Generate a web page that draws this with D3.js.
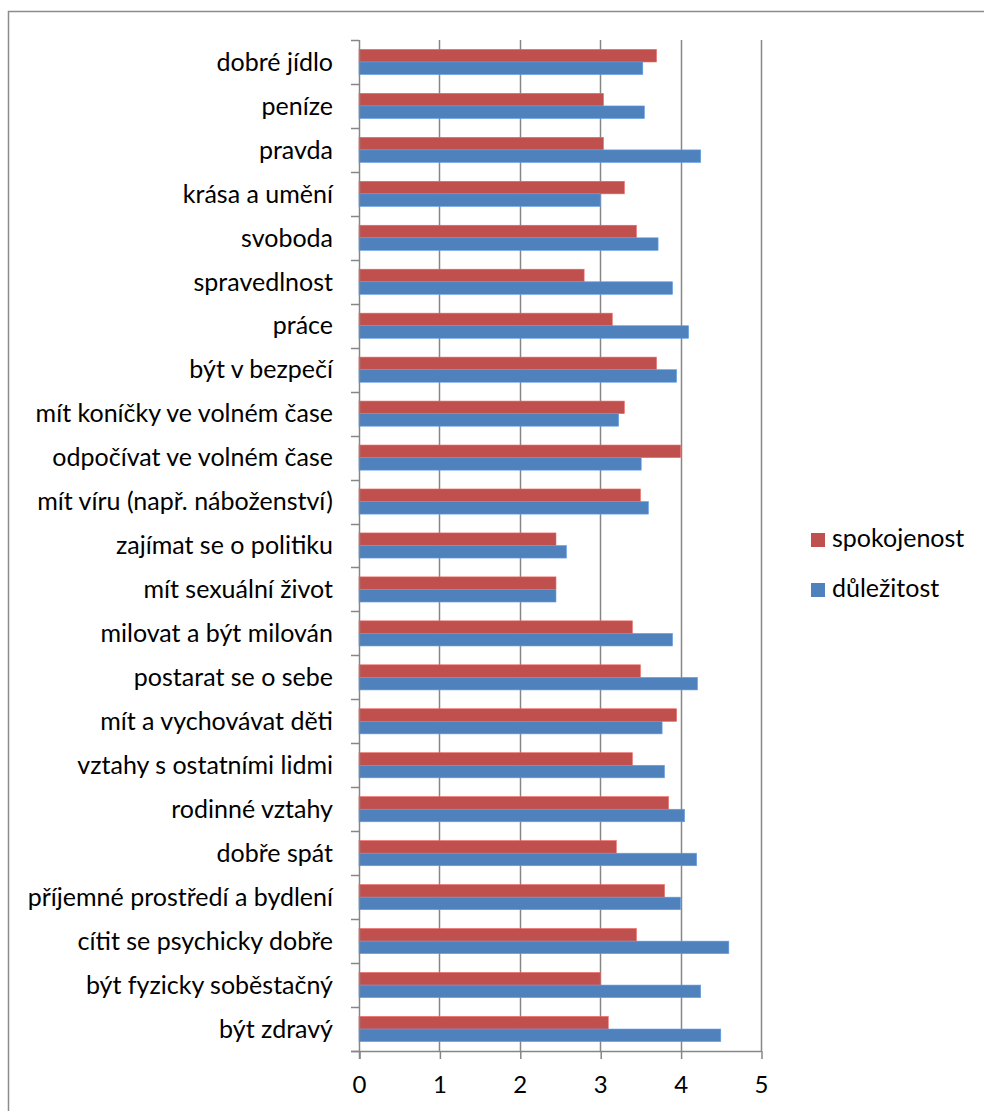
<!DOCTYPE html>
<html>
<head>
<meta charset="utf-8">
<script src="https://cdn.jsdelivr.net/npm/d3@7"></script>
<style>
  html, body { margin: 0; padding: 0; background: #fff; }
  svg { display: block; }
  text { font-family: Lato, "Open Sans", sans-serif; fill: #000; }
</style>
</head>
<body>
<svg id="chart" width="984" height="1111"></svg>
<script>
// Categories, listed top to bottom as they appear on the axis
const categories = [
  "dobré jídlo",
  "peníze",
  "pravda",
  "krása a umění",
  "svoboda",
  "spravedlnost",
  "práce",
  "být v bezpečí",
  "mít koníčky ve volném čase",
  "odpočívat ve volném čase",
  "mít víru (např. náboženství)",
  "zajímat se o politiku",
  "mít sexuální život",
  "milovat a být milován",
  "postarat se o sebe",
  "mít a vychovávat děti",
  "vztahy s ostatními lidmi",
  "rodinné vztahy",
  "dobře spát",
  "příjemné prostředí a bydlení",
  "cítit se psychicky dobře",
  "být fyzicky soběstačný",
  "být zdravý"
];

// Satisfaction
const spokojenost = [
  3.70, 3.04, 3.04, 3.30, 3.45, 2.80, 3.15, 3.70, 3.30, 4.00, 3.50, 2.45,
  2.45, 3.40, 3.50, 3.95, 3.40, 3.85, 3.20, 3.80, 3.45, 3.00, 3.10
];

// Importance
const dulezitost = [
  3.53, 3.55, 4.25, 3.00, 3.72, 3.90, 4.10, 3.95, 3.23, 3.51, 3.60, 2.58,
  2.45, 3.90, 4.21, 3.77, 3.80, 4.05, 4.20, 4.00, 4.60, 4.25, 4.50
];

const seriesNames = ["spokojenost", "důležitost"];
const seriesColors = ["#C0504D", "#4F81BD"];
const xTicks = [0, 1, 2, 3, 4, 5];

const series = [spokojenost, dulezitost];
const rows = categories.map((c, i) => ({
  category: c,
  values: seriesNames.map((s, k) => ({ key: s, value: series[k][i] }))
}));

const svg = d3.select("#chart");
const axisColor = "#868686";
const labelSize = 25;

// Outer chart frame
svg.append("rect")
  .attr("x", 8.5).attr("y", 11.5)
  .attr("width", 990).attr("height", 1110)
  .attr("fill", "none")
  .attr("stroke", "#8c8c8c")
  .attr("stroke-width", 1.5);

const plot = { left: 359, right: 761, top: 40, bottom: 1051 };

const x = d3.scaleLinear().domain([0, 5]).range([plot.left, plot.right]);
const y = d3.scaleBand().domain(categories).range([plot.top, plot.bottom]).padding(0);
const ySub = d3.scaleBand().domain(seriesNames).range([0, y.bandwidth()])
  .paddingInner(0).paddingOuter(0.75);
const color = d3.scaleOrdinal().domain(seriesNames).range(seriesColors);

// Vertical gridlines
svg.append("g")
  .selectAll("line")
  .data(xTicks.filter(t => t > 0))
  .join("line")
  .attr("x1", d => Math.round(x(d)) + 0.5)
  .attr("x2", d => Math.round(x(d)) + 0.5)
  .attr("y1", plot.top)
  .attr("y2", plot.bottom)
  .attr("stroke", axisColor)
  .attr("stroke-width", 1.5);

// Bars
const groups = svg.append("g")
  .selectAll("g")
  .data(rows)
  .join("g")
  .attr("transform", d => `translate(0,${y(d.category)})`);

groups.selectAll("rect")
  .data(d => d.values)
  .join("rect")
  .attr("x", x(0))
  .attr("y", d => ySub(d.key))
  .attr("width", d => x(d.value) - x(0))
  .attr("height", ySub.bandwidth())
  .attr("fill", d => color(d.key))
  .attr("stroke", d => d3.color(color(d.key)).brighter(0.6))
  .attr("stroke-width", 0.6);

// Bottom value axis
const xAxis = d3.axisBottom(x)
  .tickValues(xTicks)
  .tickSize(8)
  .tickPadding(17)
  .tickFormat(d3.format("d"));

const gx = svg.append("g")
  .attr("transform", `translate(0,${plot.bottom})`)
  .call(xAxis);
gx.select(".domain").attr("stroke", axisColor).attr("stroke-width", 1.5)
  .attr("d", `M${plot.left - 8},0.5H${x(5) + 0.5}`);
gx.selectAll(".tick line").attr("stroke", axisColor).attr("stroke-width", 1.5)
  .attr("x1", 0.5).attr("x2", 0.5);
gx.selectAll(".tick text")
  .attr("font-size", 24)
  .attr("font-family", "Lato, 'Open Sans', sans-serif")
  .attr("fill", "#000");

// Left category axis: tick marks sit on the band boundaries
const gy = svg.append("g");
gy.append("line")
  .attr("x1", plot.left + 0.5).attr("x2", plot.left + 0.5)
  .attr("y1", plot.top).attr("y2", plot.bottom + 8)
  .attr("stroke", axisColor).attr("stroke-width", 1.5);

const boundaries = categories.map(c => y(c)).concat([plot.bottom]);
gy.selectAll("line.tick")
  .data(boundaries)
  .join("line")
  .attr("class", "tick")
  .attr("x1", plot.left - 8)
  .attr("x2", plot.left)
  .attr("y1", d => Math.round(d) + 0.5)
  .attr("y2", d => Math.round(d) + 0.5)
  .attr("stroke", axisColor)
  .attr("stroke-width", 1.5);

gy.selectAll("text")
  .data(categories)
  .join("text")
  .attr("x", 333)
  .attr("y", d => y(d) + y.bandwidth() / 2)
  .attr("dy", "0.35em")
  .attr("text-anchor", "end")
  .attr("font-size", labelSize)
  .text(d => d);

// Legend
const legend = svg.append("g");
const legendItems = legend.selectAll("g")
  .data(seriesNames)
  .join("g")
  .attr("transform", (d, i) => `translate(811,${533 + i * 50})`);
legendItems.append("rect")
  .attr("width", 14).attr("height", 14)
  .attr("fill", d => color(d));
legendItems.append("text")
  .attr("x", 21).attr("y", 14)
  .attr("font-size", labelSize)
  .text(d => d);
</script>
</body>
</html>
